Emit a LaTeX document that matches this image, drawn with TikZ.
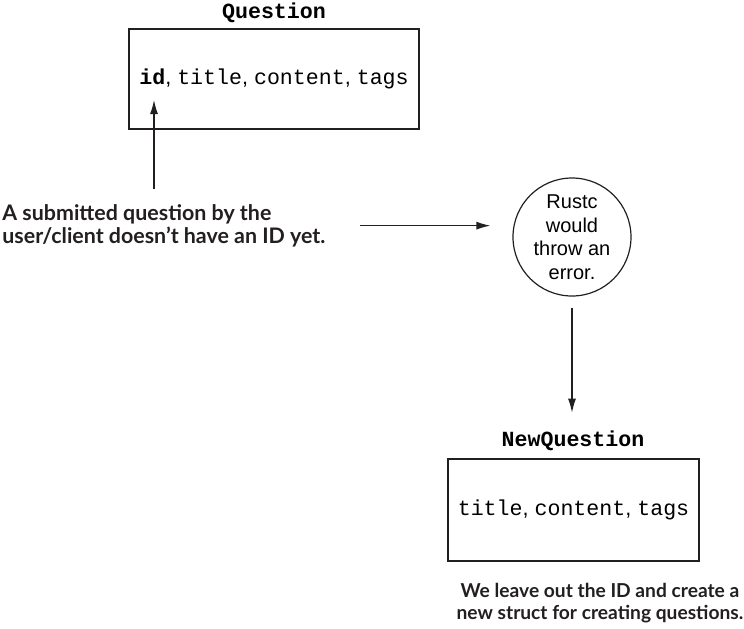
\documentclass[tikz,border=0pt]{standalone}
\usepackage{fontspec}
\setmainfont{Liberation Sans}
\setmonofont{Liberation Mono}
\newfontfamily\notefont{Lato}
\usetikzlibrary{arrows.meta,positioning,shapes}
\definecolor{ink}{HTML}{231F20}
\newcommand{\fld}[1]{\texttt{#1}}
\tikzset{
  structbox/.style={draw=ink,line width=0.7pt,minimum height=50pt,
                    inner sep=0pt,font=\fontsize{10.8}{12}\selectfont},
  structname/.style={inner sep=0pt,font=\fontsize{10.8}{12}\ttfamily\bfseries},
  note/.style={inner sep=0pt,text=ink,font=\fontsize{10.7}{11.5}\notefont\bfseries},
  bubble/.style={draw=ink,circle,line width=0.6pt,minimum size=59pt,
                 inner sep=0pt,align=center,font=\fontsize{10}{11.75}\selectfont},
  arr/.style={-{Latex[length=7pt,width=4pt]},line width=0.6pt,draw=ink}
}

\begin{document}
\begin{tikzpicture}[x=0.5pt,y=-0.5pt]
    \path[use as bounding box] (0,0) rectangle (744,628);

    \node[structname] (qname) at (274,13) {Question};
    \node[structbox,minimum width=145pt] (qbox) at (274,79)
      {\fld{\textbf{id}}, \fld{title}, \fld{content}, \fld{tags}};
    \coordinate (idpt) at (154,100);

    \node[note,align=left,anchor=north west] (why) at (2,204)
      {A submitted question by the\\user/client doesn’t have an ID yet.};
    \node[bubble] (err) at (572,237) {Rustc\\would\\throw an\\error.};

    \node[structname] (nqname) at (573,441) {NewQuestion};
    \node[structbox,minimum width=125.5pt,minimum height=51pt] (nqbox)
      at (573.5,510) {\fld{title}, \fld{content}, \fld{tags}};
    \node[note,align=center,font=\fontsize{9.6}{10.75}\notefont\bfseries] (fix)
      at (600,603)
      {We leave out the ID and create a\\new struct for creating questions.};

    \draw[arr,shorten <=7.5pt] (why.north -| idpt) -- (idpt);
    \draw[arr,shorten <=17pt,shorten >=11pt] (why.east) -- (why.east -| err.west);
    \draw[arr,shorten <=5.5pt,shorten >=9pt] (err.south) -- (err.south |- nqname.north);
\end{tikzpicture}
\end{document}
